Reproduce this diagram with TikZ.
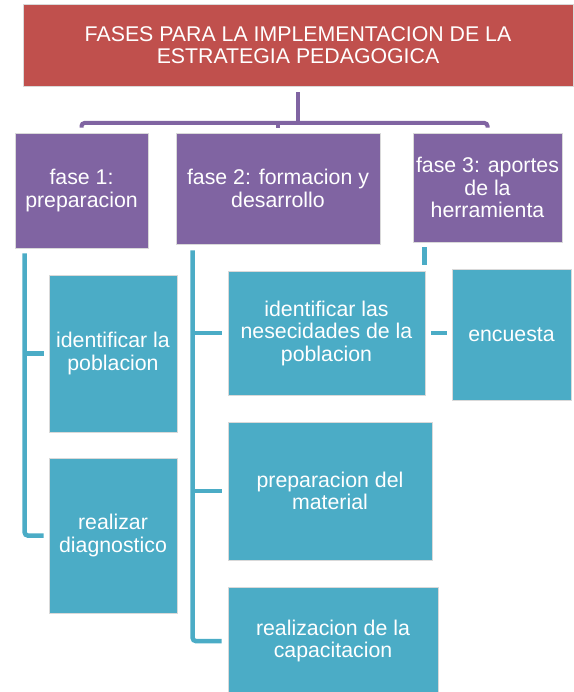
\documentclass[tikz,border=0pt]{standalone}
\usepackage{fontspec}
\setmainfont{Liberation Sans}
\definecolor{tred}{HTML}{C0504D}
\definecolor{tpurple}{HTML}{8064A2}
\definecolor{tteal}{HTML}{4BACC6}
\begin{document}
\begin{tikzpicture}[x=1pt,y=-1pt,
  boxbase/.style={text=white, align=center, inner sep=2pt, draw=white!85!black, line width=0.6pt,
     font=\fontsize{21.3}{22.5}\selectfont},
  titlebox/.style={boxbase, fill=tred},
  phasebox/.style={boxbase, fill=tpurple},
  taskbox/.style={boxbase, fill=tteal},
  pline/.style={draw=tpurple, line width=4pt, rounded corners=3pt},
  tline/.style={draw=tteal, line width=4.5pt, rounded corners=3pt}]
\useasboundingbox (0,0) rectangle (573,692);
% title
\node[titlebox, minimum width=550pt, minimum height=82pt] (title) at (298,45) {FASES PARA LA IMPLEMENTACION DE LA\\ESTRATEGIA PEDAGOGICA};
% phases
\node[phasebox, minimum width=133pt, minimum height=115pt] (f1) at (81.5,190.5) {fase 1:\\preparacion};
\node[phasebox, minimum width=204pt, minimum height=111pt] (f2) at (278,188.5) {fase 2: formacion y\\desarrollo};
\node[phasebox, minimum width=149pt, minimum height=109pt] (f3) at (487.5,187.5) {fase 3: aportes\\de la\\herramienta};
% tasks
\node[taskbox, minimum width=128pt, minimum height=157pt] (idp) at (113,353.5) {identificar la\\poblacion};
\node[taskbox, minimum width=128pt, minimum height=155pt] (rd) at (113,535.5) {realizar\\diagnostico};
\node[taskbox, minimum width=197pt, minimum height=124pt] (nes) at (326.5,333) {identificar las\\nesecidades de la\\poblacion};
\node[taskbox, minimum width=204pt, minimum height=138pt] (pm) at (330,491) {preparacion del\\material};
\node[taskbox, minimum width=210pt, minimum height=108pt] (rc) at (333,641) {realizacion de la\\capacitacion};
\node[taskbox, minimum width=119pt, minimum height=131pt] (enc) at (511.5,334.5) {encuesta};
% purple connectors
\coordinate (hub) at (299,123);
\draw[pline] ([yshift=-6pt]title.south) -- (title.south |- hub);
\draw[pline] ([yshift=5pt]f1.north) |- (hub) -| ([yshift=5pt]f3.north);
\draw[pline] ([yshift=5pt]f2.north) -- (f2.north |- hub);
% teal connectors phase 1
\coordinate (t1) at ([xshift=10pt,yshift=-5pt]f1.south west);
\draw[tline] (t1) |- ([xshift=-5pt]rd.west);
\draw[tline] (t1 |- idp.west) -- ([xshift=-5pt]idp.west);
% teal connectors phase 2
\coordinate (t2) at ([xshift=17pt,yshift=-6pt]f2.south west);
\draw[tline] (t2) |- ([xshift=-6pt]rc.west);
\draw[tline] (t2 |- nes.west) -- ([xshift=-6pt]nes.west);
\draw[tline] (t2 |- pm.west) -- ([xshift=-6pt]pm.west);
% teal connectors phase 3
\coordinate (t3) at ([xshift=12pt,yshift=-5pt]f3.south west);
\draw[tline] (t3) -- ++(0,18);
\draw[tline] ([xshift=6pt]nes.east) -- ([xshift=-5pt]enc.west |- nes.east);
\end{tikzpicture}
\end{document}
